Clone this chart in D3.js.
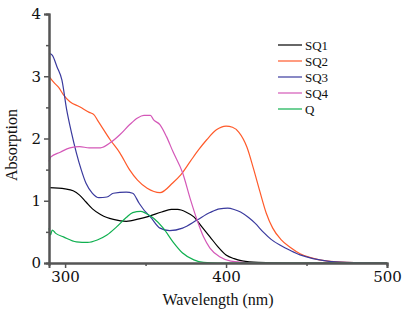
<!DOCTYPE html>
<html><head><meta charset="utf-8">
<script src="https://cdn.jsdelivr.net/npm/d3@7"></script>
<style>body{margin:0;background:#fff}svg{display:block}</style>
</head><body><svg id="c" width="402" height="314"></svg>
<script>
const seriesNames = ["SQ1","SQ2","SQ3","SQ4","Q"];
const seriesColors = ["#000000","#ff5a2a","#3a3a9e","#d458b8","#10b050"];
const xTicks = [300,400,500];
const yTicks = [0,1,2,3,4];

const sq1 = [[290,1.21],[300,1.19],[305,1.16],[309,1.09],[313,0.98],[317,0.87],[322,0.78],[326,0.73],[330,0.70],[338,0.67],[346,0.71],[352,0.75],[360,0.82],[366,0.86],[370,0.86],[375,0.82],[380,0.74],[385,0.58],[390,0.42],[395,0.26],[400,0.13],[405,0.07],[410,0.035],[420,0.01],[440,0],[500,0]];
const sq2 = [[290,3.0],[293,2.9],[296,2.82],[299,2.7],[303,2.59],[309,2.51],[315,2.42],[318,2.38],[320,2.3],[322,2.22],[328,1.98],[334,1.77],[340,1.5],[345,1.33],[351,1.2],[359,1.13],[367,1.29],[372,1.42],[378,1.64],[383,1.82],[388,1.98],[394,2.14],[400,2.2],[404,2.18],[408,2.1],[413,1.86],[417,1.52],[421,1.15],[425,0.8],[429,0.56],[434,0.38],[440,0.25],[446,0.15],[452,0.09],[458,0.05],[465,0.025],[475,0.01],[500,0]];
const sq3 = [[290,3.37],[292,3.34],[295,3.15],[298,2.94],[301,2.46],[304,2.09],[307,1.77],[310,1.5],[313,1.28],[317,1.12],[321,1.05],[326,1.06],[330,1.12],[338,1.14],[342,1.12],[346,0.96],[350,0.82],[353,0.74],[359,0.56],[365,0.52],[373,0.56],[382,0.69],[390,0.81],[396,0.87],[401,0.88],[405,0.86],[409,0.82],[414,0.73],[418,0.64],[423,0.5],[428,0.38],[434,0.28],[440,0.2],[446,0.13],[454,0.07],[463,0.03],[475,0.01],[500,0]];
const sq4 = [[290,1.63],[291,1.70],[297,1.78],[303,1.85],[309,1.87],[315,1.85],[322,1.85],[328,1.93],[334,2.06],[340,2.22],[345,2.33],[349,2.37],[353,2.37],[355,2.3],[359,2.22],[363,2.03],[367,1.79],[373,1.45],[378,1.01],[382,0.69],[386,0.42],[390,0.24],[396,0.1],[403,0.03],[410,0.01],[420,0],[500,0]];
const q = [[290,0.56],[291,0.45],[292,0.53],[294,0.48],[299,0.42],[307,0.34],[314,0.33],[320,0.37],[326,0.45],[332,0.58],[338,0.73],[342,0.81],[347,0.83],[350,0.8],[355,0.72],[361,0.56],[367,0.34],[373,0.16],[380,0.05],[386,0.01],[395,0],[500,0]];
const seriesData = [sq1,sq2,sq3,sq4,q];

const FONT = "DejaVu Serif";
const svg = d3.select("#c");
const x = d3.scaleLinear().domain([290,500]).range([49,387]);
const y = d3.scaleLinear().domain([0,4]).range([263,14]);

const line = d3.line().x(d=>x(d[0])).y(d=>y(d[1])).curve(d3.curveMonotoneX);
const g = svg.append("g");
seriesData.forEach((s,i)=>{
  g.append("path").datum(s).attr("d",line).attr("fill","none")
   .attr("stroke",seriesColors[i]).attr("stroke-width",1.2);
});

const axCol = "#555";
const xMajor = d3.axisBottom(x).tickValues(xTicks).tickSize(5).tickPadding(3).tickFormat(d3.format("d"));
const xMinor = d3.axisBottom(x).tickValues([350,450]).tickSize(3).tickFormat("");
const yMajor = d3.axisLeft(y).tickValues(yTicks).tickSize(5).tickPadding(3).tickFormat(d3.format("d"));
const yMinor = d3.axisLeft(y).tickValues([0.5,1.5,2.5,3.5]).tickSize(3).tickFormat("");
function style(sel){
  sel.attr("font-family",FONT).attr("font-size",15);
  sel.select(".domain").attr("stroke",axCol).attr("stroke-width",2);
  sel.selectAll(".tick line").attr("stroke",axCol).attr("stroke-width",1.5);
  sel.selectAll("text").attr("fill","#111");
}
svg.append("g").attr("transform","translate(0,263)").call(xMinor).call(style);
svg.append("g").attr("transform","translate(0,263)").call(xMajor).call(style);
svg.append("g").attr("transform","translate(49,0)").call(yMinor).call(style);
svg.append("g").attr("transform","translate(49,0)").call(yMajor).call(style);

svg.append("text").attr("x",218).attr("y",305).attr("text-anchor","middle")
  .attr("font-family","Liberation Serif").attr("font-size",16).attr("fill","#111").text("Wavelength (nm)");
svg.append("text").attr("transform","translate(17,145) rotate(-90)").attr("text-anchor","middle")
  .attr("font-family","Liberation Serif").attr("font-size",16).attr("fill","#111").text("Absorption");

const lg = svg.append("g").attr("font-family","Liberation Serif").attr("font-size",13);
seriesNames.forEach((n,i)=>{
  const yy = 45 + i*16;
  lg.append("line").attr("x1",278).attr("x2",302).attr("y1",yy).attr("y2",yy)
    .attr("stroke",seriesColors[i]).attr("stroke-width",1.2);
  lg.append("text").attr("x",305).attr("y",yy+4.5).attr("fill","#111").text(n);
});
</script></body></html>
